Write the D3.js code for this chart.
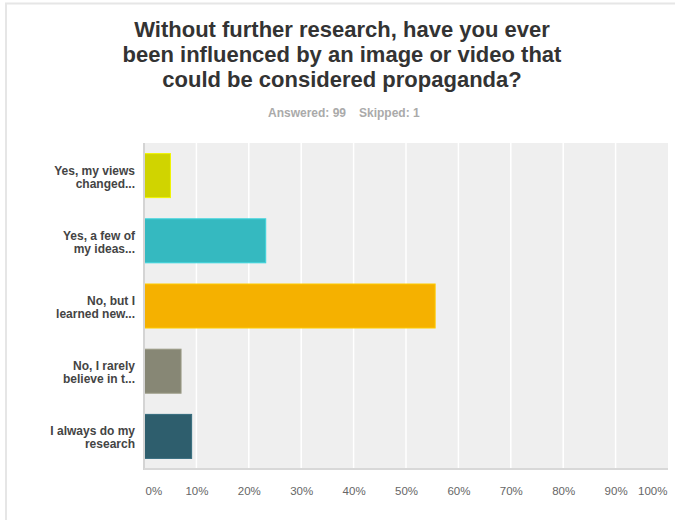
<!DOCTYPE html>
<html>
<head>
<meta charset="utf-8">
<script src="https://cdn.jsdelivr.net/npm/d3@7"></script>
<style>
  html, body { margin: 0; padding: 0; background: #ffffff; }
  svg { display: block; font-family: "Liberation Sans", Arial, Helvetica, sans-serif; }
</style>
</head>
<body>
<svg id="chart" width="675" height="520"></svg>
<script>
// ---- data ----
const titleLines = [
  "Without further research, have you ever",
  "been influenced by an image or video that",
  "could be considered propaganda?"
];
const subtitleParts = ["Answered: 99", "Skipped: 1"];
const categories = [
  ["Yes, my views", "changed..."],
  ["Yes, a few of", "my ideas..."],
  ["No, but I", "learned new..."],
  ["No, I rarely", "believe in t..."],
  ["I always do my", "research"]
];
const values = [5.05, 23.23, 55.56, 7.07, 9.09];
const colors = ["#d0d400", "#35b9c0", "#f5b100", "#878775", "#2e5e6d"];
const xTicks = [0, 10, 20, 30, 40, 50, 60, 70, 80, 90, 100];

// ---- layout ----
const svg = d3.select("#chart");
const plot = { left: 144, right: 668, top: 143, bottom: 469 };

// frame
svg.append("line").attr("x1", 5).attr("x2", 675).attr("y1", 3.5).attr("y2", 3.5)
  .attr("stroke", "#e6e6e6").attr("stroke-width", 2);
svg.append("line").attr("x1", 6).attr("x2", 6).attr("y1", 3).attr("y2", 520)
  .attr("stroke", "#e6e6e6").attr("stroke-width", 2);

// title
const title = svg.append("text").attr("text-anchor", "middle")
  .attr("font-weight", "bold").attr("font-size", 22).attr("fill", "#333333");
titleLines.forEach((t, i) => {
  title.append("tspan").attr("x", 342).attr("y", 36.5 + i * 25).text(t);
});

// subtitle
const sub = svg.append("text").attr("y", 117).attr("font-size", 12)
  .attr("font-weight", "bold").attr("fill", "#aaaaaa");
sub.append("tspan").attr("x", 268).text(subtitleParts[0]);
sub.append("tspan").attr("x", 359).text(subtitleParts[1]);

// scales
const x = d3.scaleLinear().domain([0, 100]).range([plot.left, plot.right]);
const y = d3.scaleBand().domain(d3.range(categories.length))
  .range([plot.top, plot.bottom]).paddingInner(0.325).paddingOuter(0.1625);

// plot background
svg.append("rect").attr("x", plot.left).attr("y", plot.top)
  .attr("width", plot.right - plot.left).attr("height", plot.bottom - plot.top)
  .attr("fill", "#efefef");

// gridlines
svg.append("g").selectAll("line").data(xTicks.filter(d => d > 0 && d < 100)).join("line")
  .attr("x1", d => x(d)).attr("x2", d => x(d))
  .attr("y1", plot.top).attr("y2", plot.bottom)
  .attr("stroke", "#ffffff").attr("stroke-width", 1.5);

// bars
svg.append("g").selectAll("rect").data(values).join("rect")
  .attr("x", x(0)).attr("y", (d, i) => y(i))
  .attr("width", d => x(d) - x(0)).attr("height", y.bandwidth())
  .attr("fill", (d, i) => colors[i])
  .attr("stroke", (d, i) => d3.color(colors[i]).brighter(0.4))
  .attr("stroke-width", 1);

// axes lines
svg.append("line").attr("x1", plot.left).attr("x2", plot.left)
  .attr("y1", plot.top).attr("y2", plot.bottom + 1)
  .attr("stroke", "#d4d4d4").attr("stroke-width", 2);
svg.append("line").attr("x1", plot.left).attr("x2", plot.right)
  .attr("y1", plot.bottom).attr("y2", plot.bottom)
  .attr("stroke", "#d8d8d8").attr("stroke-width", 2);

// x tick labels
const xAxis = d3.axisBottom(x).tickValues(xTicks).tickSize(0).tickPadding(0)
  .tickFormat(d => d + "%");
const gx = svg.append("g").attr("transform", `translate(0, ${plot.bottom})`).call(xAxis);
gx.select(".domain").remove();
gx.selectAll("text")
  .attr("y", 26).attr("dy", null)
  .attr("font-size", 11.5).attr("fill", "#666666")
  .attr("font-family", "Liberation Sans, Arial, sans-serif")
  .attr("text-anchor", d => d === 0 ? "start" : (d === 100 ? "end" : "middle"))
  .attr("dx", d => d === 0 ? 1 : (d === 100 ? -1 : 0));

// y labels
const yl = svg.append("g");
categories.forEach((lines, i) => {
  const c = y(i) + y.bandwidth() / 2;
  const t = yl.append("text").attr("text-anchor", "end")
    .attr("font-size", 12).attr("font-weight", "bold").attr("fill", "#444444");
  lines.forEach((ln, j) => {
    t.append("tspan").attr("x", 135).attr("y", c - 1 + j * 13).text(ln);
  });
});
</script>
</body>
</html>
